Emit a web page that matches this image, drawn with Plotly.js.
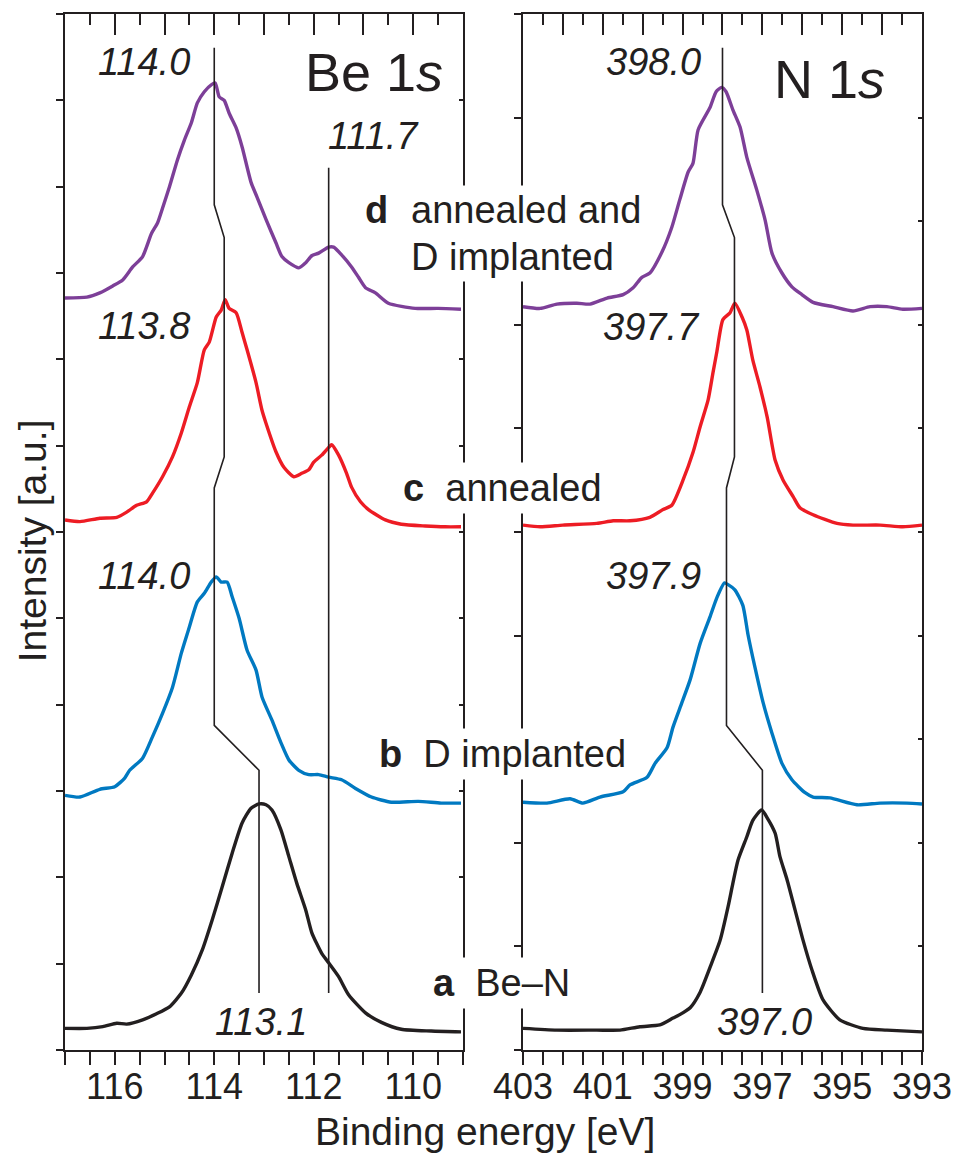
<!DOCTYPE html>
<html>
<head>
<meta charset="utf-8">
<script src="https://cdn.plot.ly/plotly-3.0.1.min.js"></script>
<style>html,body{margin:0;padding:0;background:#fff;}</style>
</head>
<body>
<div id="chart" style="width:960px;height:1159px;"></div>
<script>
// ---------- Be 1s spectra (binding energy in eV, intensity in a.u.) ----------
const beEnergyD = [117.00,116.56,116.30,116.04,115.84,115.64,115.44,115.26,115.14,115.04,114.90,114.74,114.60,114.46,114.34,114.20,114.06,113.98,113.90,113.80,113.70,113.56,113.44,113.26,113.14,112.96,112.76,112.64,112.50,112.30,112.16,112.04,111.90,111.70,111.60,111.44,111.24,111.10,110.96,110.76,110.50,109.96,109.50,109.04];
const beIntensityD = [8.71,8.72,8.77,8.85,8.92,9.07,9.19,9.46,9.58,9.75,10.00,10.31,10.54,10.74,10.97,11.10,11.18,11.20,11.04,11.00,10.85,10.68,10.46,10.05,9.88,9.62,9.35,9.19,9.12,9.06,9.12,9.20,9.23,9.30,9.30,9.21,9.07,8.95,8.83,8.77,8.65,8.59,8.59,8.58];

const beEnergyC = [117.00,116.70,116.30,115.96,115.76,115.56,115.36,115.24,115.04,114.84,114.66,114.50,114.34,114.20,114.10,113.96,113.86,113.78,113.70,113.56,113.44,113.34,113.16,113.04,112.96,112.76,112.60,112.40,112.24,112.10,112.00,111.84,111.70,111.64,111.50,111.34,111.24,111.06,110.90,110.56,110.24,109.76,109.36,109.04];
const beIntensityC = [6.14,6.12,6.16,6.17,6.23,6.31,6.35,6.45,6.64,6.87,7.15,7.45,7.73,8.11,8.20,8.49,8.57,8.69,8.59,8.54,8.31,8.11,7.73,7.41,7.26,6.93,6.75,6.64,6.68,6.72,6.81,6.89,6.98,7.01,6.89,6.68,6.52,6.35,6.26,6.14,6.09,6.07,6.06,6.06];

const beEnergyB = [117.00,116.70,116.30,116.00,115.80,115.70,115.44,115.24,115.04,114.84,114.66,114.50,114.34,114.20,114.06,113.96,113.86,113.74,113.64,113.50,113.34,113.16,113.04,112.84,112.66,112.50,112.30,112.10,111.90,111.70,111.44,111.16,110.84,110.44,109.90,109.44,109.04];
const beIntensityB = [2.95,2.93,3.02,3.05,3.15,3.24,3.38,3.63,3.90,4.20,4.60,4.90,5.19,5.29,5.42,5.48,5.42,5.42,5.25,5.00,4.63,4.40,4.09,3.82,3.56,3.36,3.24,3.19,3.19,3.16,3.13,3.03,2.93,2.87,2.88,2.86,2.86];

const beEnergyA = [117.00,116.56,116.24,115.96,115.76,115.44,115.16,114.90,114.66,114.46,114.24,114.04,113.84,113.64,113.44,113.26,113.10,112.96,112.84,112.66,112.50,112.34,112.16,112.04,111.84,111.70,111.50,111.30,110.96,110.64,110.24,109.64,109.04];
const beIntensityA = [0.25,0.25,0.27,0.31,0.30,0.35,0.42,0.50,0.66,0.87,1.16,1.51,1.89,2.28,2.63,2.80,2.85,2.84,2.78,2.55,2.24,1.93,1.62,1.36,1.12,1.01,0.85,0.64,0.43,0.32,0.24,0.22,0.21];

// ---------- N 1s spectra ----------
const nEnergyD = [403.00,402.57,402.15,401.65,401.32,400.89,400.49,400.24,400.02,399.82,399.52,399.27,399.07,398.86,398.74,398.61,398.31,398.16,398.02,397.91,397.74,397.56,397.39,397.14,396.93,396.76,396.51,396.26,396.01,395.73,395.23,394.73,394.30,393.88,393.48,393.00];
const nIntensityD = [8.61,8.59,8.64,8.65,8.64,8.71,8.75,8.83,8.95,9.00,9.24,9.53,9.85,10.17,10.27,10.66,10.92,11.10,11.15,11.10,10.89,10.69,10.34,9.96,9.61,9.23,9.00,8.84,8.75,8.66,8.61,8.56,8.61,8.61,8.58,8.59];

const nEnergyC = [403.00,402.57,402.00,401.15,400.74,400.32,399.82,399.49,399.27,398.99,398.74,398.56,398.36,398.24,398.14,397.99,397.81,397.69,397.51,397.39,397.24,397.06,396.88,396.68,396.48,396.23,396.06,395.73,395.13,394.73,394.05,393.48,393.00];
const nIntensityC = [6.08,6.06,6.08,6.10,6.13,6.13,6.17,6.26,6.31,6.60,6.92,7.22,7.53,7.84,8.09,8.46,8.54,8.65,8.49,8.34,7.99,7.68,7.33,6.83,6.60,6.41,6.28,6.20,6.10,6.08,6.08,6.06,6.08];

const nEnergyB = [403.00,402.40,401.82,401.50,401.07,400.49,400.32,399.89,399.69,399.39,399.24,399.02,398.81,398.56,398.31,398.14,397.95,397.86,397.69,397.49,397.36,397.19,396.98,396.76,396.51,396.26,395.93,395.73,395.31,394.63,394.05,393.38,393.00];
const nIntensityB = [2.87,2.86,2.91,2.86,2.93,2.99,3.07,3.16,3.32,3.50,3.74,4.02,4.29,4.71,5.02,5.24,5.41,5.39,5.33,5.15,4.81,4.44,4.02,3.67,3.32,3.13,2.98,2.93,2.92,2.84,2.86,2.86,2.85];

const nEnergyA = [403.00,402.15,401.15,400.57,400.07,399.57,399.24,399.07,398.81,398.56,398.31,398.06,397.86,397.74,397.61,397.39,397.24,397.02,396.88,396.68,396.56,396.38,396.18,395.98,395.76,395.48,395.06,394.48,393.88,393.00];
const nIntensityA = [0.25,0.23,0.23,0.23,0.27,0.29,0.37,0.41,0.49,0.67,0.96,1.27,1.66,1.93,2.20,2.47,2.66,2.78,2.69,2.51,2.24,1.97,1.62,1.27,0.93,0.58,0.35,0.25,0.23,0.21];

// ---------- peak-position guide lines ----------
const beGuideX = [114.0,114.0,113.8,113.8,114.0,114.0,113.1,113.1];
const nGuideX  = [398.0,398.0,397.7,397.7,397.9,397.9,397.0,397.0];
const guideY   = [11.61,9.79,9.41,6.87,6.51,3.76,3.24,0.66];
const beSatX = [111.7,111.7];
const beSatY = [10.22,0.66];

// ---------- labels ----------
const bePeakLabels = ['114.0','113.8','114.0','113.1','111.7'];
const nPeakLabels  = ['398.0','397.7','397.9','397.0'];
const sampleLetters = ['d','c','b','a'];
const sampleNames = ['annealed and','annealed','D implanted','Be\u2013N'];
const sampleNameD2 = 'D implanted';
const beTickVals = [116,114,112,110];
const beTickText = ['116','114','112','110'];
const nTickVals = [403,401,399,397,395,393];
const nTickText = ['403','401','399','397','395','393'];

const colors = {d:'#7d3f98', c:'#ed1c24', b:'#0079c1', a:'#231f20'};
const ink = '#231f20';
const fam = 'Liberation Sans, Arial, Helvetica, sans-serif';

function spec(x, y, col, xa, ya){
  return {x:x, y:y, type:'scatter', mode:'lines', xaxis:xa, yaxis:ya,
          line:{color:col, width:3.4, shape:'spline', smoothing:0.6}, hoverinfo:'skip', showlegend:false};
}
function guide(x, y, xa, ya){
  return {x:x, y:y, type:'scatter', mode:'lines', xaxis:xa, yaxis:ya,
          line:{color:ink, width:1.6}, hoverinfo:'skip', showlegend:false};
}

const data = [
  spec(beEnergyD, beIntensityD, colors.d, 'x','y'),
  spec(beEnergyC, beIntensityC, colors.c, 'x','y'),
  spec(beEnergyB, beIntensityB, colors.b, 'x','y'),
  spec(beEnergyA, beIntensityA, colors.a, 'x','y'),
  spec(nEnergyD, nIntensityD, colors.d, 'x2','y2'),
  spec(nEnergyC, nIntensityC, colors.c, 'x2','y2'),
  spec(nEnergyB, nIntensityB, colors.b, 'x2','y2'),
  spec(nEnergyA, nIntensityA, colors.a, 'x2','y2'),
  guide(beGuideX, guideY, 'x3','y3'),
  guide(beSatX, beSatY, 'x3','y3'),
  guide(nGuideX, guideY, 'x4','y4')
];

const beRange = [117,109];
const nRange = [403,393];
const yRange = [0,12];
const leftDom = [0, 0.4644];
const rightDom = [0.5344, 1];

const baseAx = {showgrid:false, zeroline:false, showline:true, linewidth:2, linecolor:ink,
  tickwidth:2, tickcolor:ink, fixedrange:true};
const tickFont = {family:fam, size:36, color:ink};

function bottomAx(dom, range, vals, text, anchor){
  return Object.assign({}, baseAx, {domain:dom, range:range, anchor:anchor,
    tickmode:'array', tickvals:vals, ticktext:text, ticks:'outside', ticklen:13,
    tickfont:tickFont, ticklabelstandoff:-9,
    minor:{tickmode:'linear', tick0:range[1], dtick:0.5, ticks:'outside', ticklen:13, tickwidth:2, tickcolor:ink, showgrid:false}});
}
function topAx(range, over, anchor){
  return Object.assign({}, baseAx, {overlaying:over, side:'top', anchor:anchor, range:range,
    tickmode:'linear', tick0:range[1], dtick:1, ticks:'inside', ticklen:21, showticklabels:false,
    minor:{tickmode:'linear', tick0:range[1], dtick:0.5, ticks:'inside', ticklen:11, tickwidth:2, tickcolor:ink, showgrid:false}});
}
function leftAx(dt, anchor){
  return Object.assign({}, baseAx, {range:yRange, anchor:anchor, tickmode:'linear', tick0:0, dtick:dt,
    ticks:'outside', ticklen:7, showticklabels:false});
}
function rightAx(dt, over, anchor){
  return Object.assign({}, baseAx, {range:yRange, overlaying:over, side:'right', anchor:anchor,
    tickmode:'linear', tick0:0, dtick:dt, ticks:'inside', ticklen:4, showticklabels:false});
}

const ann = [];
function A(o){ ann.push(Object.assign({showarrow:false, font:{family:fam, size:38, color:ink}}, o)); }

// peak value labels
A({x:114.44, y:11.44, xref:'x', yref:'y', text:'<i>'+bePeakLabels[0]+'</i>', xanchor:'right', yanchor:'middle'});
A({x:114.44, y:8.39, xref:'x', yref:'y', text:'<i>'+bePeakLabels[1]+'</i>', xanchor:'right', yanchor:'middle'});
A({x:114.44, y:5.49, xref:'x', yref:'y', text:'<i>'+bePeakLabels[2]+'</i>', xanchor:'right', yanchor:'middle'});
A({x:113.06, y:0.32, xref:'x', yref:'y', text:'<i>'+bePeakLabels[3]+'</i>', xanchor:'center', yanchor:'middle'});
A({x:111.76, y:10.59, xref:'x', yref:'y', text:'<i>'+bePeakLabels[4]+'</i>', xanchor:'left', yanchor:'middle'});
A({x:398.49, y:11.44, xref:'x2', yref:'y2', text:'<i>'+nPeakLabels[0]+'</i>', xanchor:'right', yanchor:'middle'});
A({x:398.51, y:8.37, xref:'x2', yref:'y2', text:'<i>'+nPeakLabels[1]+'</i>', xanchor:'right', yanchor:'middle'});
A({x:398.49, y:5.49, xref:'x2', yref:'y2', text:'<i>'+nPeakLabels[2]+'</i>', xanchor:'right', yanchor:'middle'});
A({x:396.94, y:0.32, xref:'x2', yref:'y2', text:'<i>'+nPeakLabels[3]+'</i>', xanchor:'center', yanchor:'middle'});

// panel titles
A({x:0.4434, y:0.944, xref:'paper', yref:'paper', text:'Be 1<i>s</i>', xanchor:'right', yanchor:'middle', font:{family:fam, size:54, color:ink}});
A({x:0.9592, y:0.937, xref:'paper', yref:'paper', text:'N 1<i>s</i>', xanchor:'right', yanchor:'middle', font:{family:fam, size:54, color:ink}});

// sample labels (white box also interrupts the inner spines)
const nb = '\u00a0\u00a0';
A({x:0.3477, y:0.8108, xref:'paper', yref:'paper', text:'<b>'+sampleLetters[0]+'</b>', xanchor:'left', yanchor:'middle'});
A({x:0.3990, y:0.8108, xref:'paper', yref:'paper', text:sampleNames[0], xanchor:'left', yanchor:'middle', bgcolor:'#ffffff', borderpad:3});
A({x:0.3990, y:0.7654, xref:'paper', yref:'paper', text:sampleNameD2, xanchor:'left', yanchor:'middle', bgcolor:'#ffffff', borderpad:3});
A({x:0.3880, y:0.5425, xref:'paper', yref:'paper', text:'<b>'+sampleLetters[1]+'</b>'+nb+sampleNames[1], xanchor:'left', yanchor:'middle', bgcolor:'#ffffff', borderpad:4});
A({x:0.3600, y:0.2857, xref:'paper', yref:'paper', text:'<b>'+sampleLetters[2]+'</b>'+nb+sampleNames[2], xanchor:'left', yanchor:'middle', bgcolor:'#ffffff', borderpad:4});
A({x:0.4240, y:0.0647, xref:'paper', yref:'paper', text:'<b>'+sampleLetters[3]+'</b>'+nb+sampleNames[3], xanchor:'left', yanchor:'middle', bgcolor:'#ffffff', borderpad:4});

// axis titles
A({x:0.490, y:-0.079, xref:'paper', yref:'paper', text:'Binding energy [eV]', xanchor:'center', yanchor:'middle', font:{family:fam, size:39, color:ink}});
A({x:-0.0385, y:0.491, xref:'paper', yref:'paper', text:'Intensity [a.u.]', textangle:-90, xanchor:'center', yanchor:'middle', font:{family:fam, size:39, color:ink}});

const layout = {
  width:960, height:1159,
  margin:{l:65, r:38, t:14, b:109},
  paper_bgcolor:'#ffffff', plot_bgcolor:'rgba(0,0,0,0)',
  showlegend:false,
  font:{family:fam, color:ink},
  xaxis: bottomAx(leftDom, beRange, beTickVals, beTickText, 'y'),
  xaxis2: bottomAx(rightDom, nRange, nTickVals, nTickText, 'y2'),
  xaxis3: topAx(beRange, 'x', 'y'),
  xaxis4: topAx(nRange, 'x2', 'y2'),
  yaxis: leftAx(1, 'x'),
  yaxis2: leftAx(1.2, 'x2'),
  yaxis3: rightAx(1, 'y', 'x'),
  yaxis4: rightAx(1.2, 'y2', 'x2'),
  annotations: ann
};

Plotly.newPlot('chart', data, layout, {displayModeBar:false, staticPlot:true});
</script>
</body>
</html>
